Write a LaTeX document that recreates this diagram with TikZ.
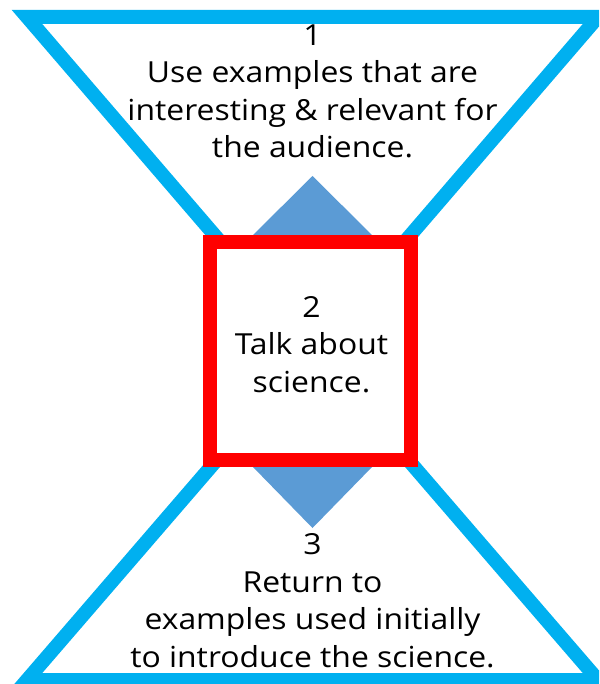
\documentclass[tikz,border=0pt]{standalone}
\usepackage{fontspec}
\setmainfont[FakeStretch=1.1]{Open Sans}
\usetikzlibrary{positioning}
\definecolor{funnelblue}{RGB}{0,176,240}
\definecolor{corered}{RGB}{255,0,0}
\definecolor{arrowfill}{RGB}{91,155,213}
\tikzset{
    line join=miter,
    funnel/.style={
        draw=funnelblue,
        line width=14pt
    },
    pointer/.style={
        fill=arrowfill,
        draw=none
    },
    corebox/.style={
        rectangle,
        draw=corered,
        fill=white,
        line width=14pt,
        minimum width=201pt,
        minimum height=218pt,
        inner sep=0pt
    },
    steptext/.style={
        align=center,
        inner sep=0pt,
        anchor=base,
        font=\fontsize{29}{37.5}\selectfont,
        text=black
    }
}

\begin{document}
\begin{tikzpicture}[x=1pt, y=-1pt]
\useasboundingbox (0,0) rectangle (599,684);
\clip (0,0) rectangle (599,684);

% Funnel corners
\coordinate (topL) at (27,17);
\coordinate (topR) at (598,17);
\coordinate (waist) at (312.5,349);
\coordinate (botL) at (27,680);
\coordinate (botR) at (598,680);

% Two triangles meeting at the waist
\draw[funnel] (topL) -- (topR) -- (waist) -- cycle;
\draw[funnel] (botL) -- (botR) -- (waist) -- cycle;

% Pointer behind the box
\fill[pointer] (312.5,176) -- (252,236) -- (252,466) -- (312.5,528)
    -- (373,466) -- (373,236) -- cycle;

% Centre box
\node[corebox] (core) at (310.5,351) {};

% Texts (anchored at the baseline of the last line)
\node[steptext] (stepone) at (312.5,158)
    {1\\Use examples that are\\interesting \& relevant for\\the audience.};
\node[steptext] (steptwo) at (311.5,392)
    {2\\Talk about\\science.};
\node[steptext] (stepthree) at (312.5,667)
    {3\\Return to\\examples used initially\\to introduce the science.};
\end{tikzpicture}
\end{document}
